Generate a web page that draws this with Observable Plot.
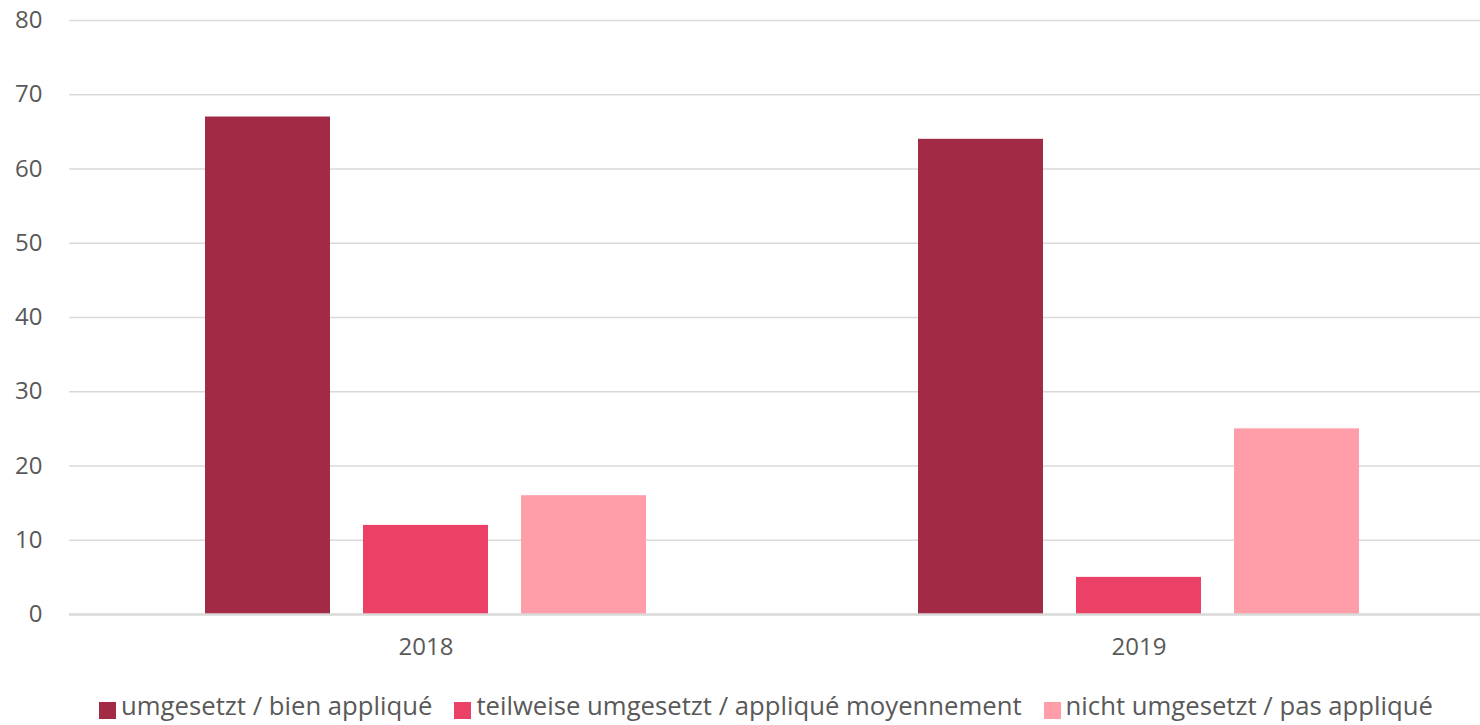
<!DOCTYPE html>
<html>
<head>
<meta charset="utf-8">
<script src="https://cdn.jsdelivr.net/npm/d3@7"></script>
<script src="https://cdn.jsdelivr.net/npm/@observablehq/plot@0.6"></script>
<style>
  body { margin: 0; background: #fff; overflow: hidden; }
  #chart svg { display: block; }
  .legend { display: flex; justify-content: center; align-items: center; margin-top: 8px; padding-left: 52px;
    font-family: "Open Sans", sans-serif; font-size: 25.7px; color: #595959; line-height: normal; }
  .legend .item { display: flex; align-items: center; margin: 0 11px; }
  .legend .sw { width: 17px; height: 17px; margin-right: 5px; position: relative; top: 5px; }
</style>
</head>
<body>
<div id="chart"></div>
<script>
const years = ["2018", "2019"];
const series = ["umgesetzt / bien appliqué", "teilweise umgesetzt / appliqué moyennement", "nicht umgesetzt / pas appliqué"];
const values2018 = [67, 12, 16];
const values2019 = [64, 5, 25];
const colors = ["#A22A44", "#EC4166", "#FF9DA8"];
const yTicks = [0, 10, 20, 30, 40, 50, 60, 70, 80];

const valuesByYear = [values2018, values2019];
const data = years.flatMap((yr, i) => series.map((s, j) => ({year: yr, series: s, value: valuesByYear[i][j]})));

const chart = Plot.plot({
  width: 1480,
  height: 680,
  marginLeft: 70,
  marginRight: 0,
  marginTop: 20,
  marginBottom: 66,
  style: {fontFamily: "'Open Sans', sans-serif", background: "#fff"},
  fx: {domain: years, range: [69, 1495], padding: 0, label: null},
  x: {domain: series, axis: null, paddingInner: 0.212, paddingOuter: 0.86},
  y: {domain: [0, 80], range: [614, 20], axis: null},
  color: {domain: series, range: colors},
  marks: [
    Plot.ruleY(yTicks.filter(d => d > 0), {stroke: "#d9d9d9", strokeWidth: 1.5}),
    Plot.barY(data, {fx: "year", x: "series", y: "value", fill: "series"}),
    Plot.ruleY([0], {stroke: "#d9d9d9", strokeWidth: 2.5}),
    Plot.axisY(yTicks, {tickSize: 0, tickPadding: 27, fontSize: 24, color: "#595959", label: null}),
    Plot.axisFx({anchor: "bottom", tickSize: 0, tickPadding: 23, fontSize: 24, color: "#595959", label: null})
  ]
});
document.getElementById("chart").appendChild(chart);

const legend = document.createElement("div");
legend.className = "legend";
series.forEach((s, i) => {
  const item = document.createElement("div");
  item.className = "item";
  const sw = document.createElement("span");
  sw.className = "sw";
  sw.style.background = colors[i];
  const t = document.createElement("span");
  t.textContent = s;
  item.appendChild(sw);
  item.appendChild(t);
  legend.appendChild(item);
});
document.getElementById("chart").appendChild(legend);
</script>
</body>
</html>
